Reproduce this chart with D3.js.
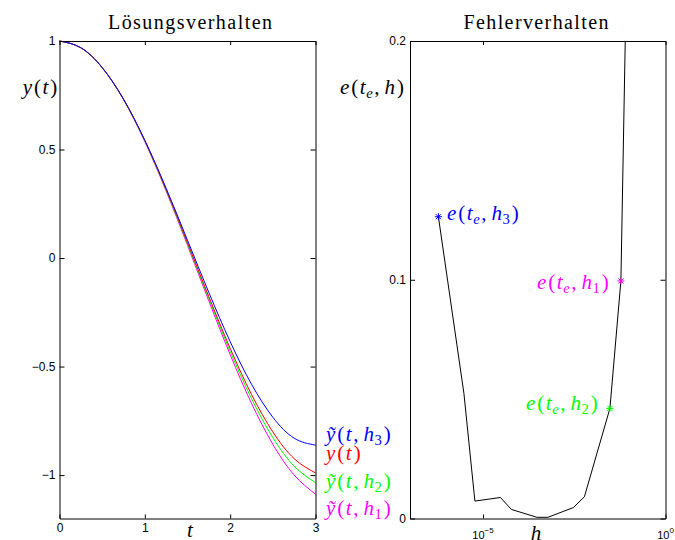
<!DOCTYPE html>
<html><head><meta charset="utf-8">
<script src="https://cdn.jsdelivr.net/npm/d3@7"></script>
<style>body{margin:0;background:#fff}svg{display:block}</style>
</head><body>
<svg id="c" width="675" height="540"></svg>
<script>
// ---- data ----
const tVals  = [0, 0.25, 0.5, 0.75, 1, 1.25, 1.5, 1.75, 2, 2.25, 2.5, 2.75, 3];
const yExact = [1, 0.9689, 0.8776, 0.7317, 0.5403, 0.3153, 0.0707, -0.1782, -0.4161, -0.6282, -0.8011, -0.9243, -0.9900];
const yH1    = [1, 0.9688, 0.8772, 0.7302, 0.5367, 0.3082, 0.0584, -0.1977, -0.4451, -0.6695, -0.8578, -0.9998, -1.0880];
const yH2    = [1, 0.9689, 0.8774, 0.7310, 0.5386, 0.3120, 0.0651, -0.1871, -0.4294, -0.6472, -0.8271, -0.9590, -1.0350];
const yH3    = [1, 0.9689, 0.8778, 0.7327, 0.5430, 0.3213, 0.0820, -0.1588, -0.3851, -0.5814, -0.7335, -0.8299, -0.8620];
const hVals   = [6e-7, 3e-6, 6e-6, 3e-5, 6e-5, 3e-4, 6e-4, 3e-3, 6e-3, 3e-2, 6e-2, 3e-1];
const errVals = [0.1264, 0.0524, 0.0073, 0.0088, 0.0038, 0.0005, 0.0005, 0.0046, 0.0091, 0.0461, 0.0995, 0.69];
const leftYTicks = [-1, -0.5, 0, 0.5, 1];
const leftXTicks = [0, 1, 2, 3];
const rightYTicks = [0, 0.1, 0.2];
const rightXTicks = [1e-5, 1];
const rightXExp = ["\u22125", "0"];
const titles = ["Lösungsverhalten", "Fehlerverhalten"];

const svg = d3.select("#c");
const SANS = "'Liberation Sans', Arial, sans-serif";
const SERIF = "'Liberation Serif', 'Times New Roman', serif";

const L = {x0: 59.5, x1: 315.5, y0: 41, y1: 518.5};
const R = {x0: 410, x1: 665.5, y0: 41, y1: 518.5};

const xL = d3.scaleLinear([0, 3], [L.x0, L.x1]);
const yL = d3.scaleLinear([-1.2, 1], [L.y1, L.y0]);
const xR = d3.scaleLog([1e-7, 1], [R.x0, R.x1]);
const yR = d3.scaleLinear([0, 0.2], [R.y1, R.y0]);

// math text helper
function mathText(x, y, parts, color, anchor, size) {
  size = size || 21;
  const t = svg.append("text").attr("x", x).attr("y", y)
    .attr("fill", color).attr("font-family", SERIF).attr("font-size", size)
    .attr("text-anchor", anchor || "start");
  let shifted = 0;
  parts.forEach(p => {
    const [s, st, dx] = p;
    const ts = t.append("tspan").text(s);
    if (dx) ts.attr("dx", dx);
    if (st.startsWith("sub")) {
      ts.attr("font-size", size * 0.7).attr("dy", 4 - shifted);
      shifted = 4;
      ts.attr("font-style", st === "subi" ? "italic" : "normal");
    } else {
      if (shifted) { ts.attr("dy", -shifted); shifted = 0; }
      ts.attr("font-style", st === "i" ? "italic" : "normal");
    }
  });
  return t;
}

function yt(sub) {
  return [["\u1EF9", "i"], ["(", "r", 2], ["t", "i", 1.5], [",", "r", 1.5], ["h", "i", 5], [sub, "sub", 0.5], [")", "r", 2]];
}
function et(sub) {
  return [["e", "i"], ["(", "r", 2], ["t", "i", 1.5], ["e", "subi", 0.5], [",", "r", 1.5], ["h", "i", 5], [sub, "sub", 0.5], [")", "r", 2]];
}

// ---- left plot ----
const gl = svg.append("g");
const line = d3.line().curve(d3.curveNatural).x((d, i) => xL(tVals[i])).y(d => yL(d));
[[yH1, "#ff00ff"], [yH2, "#00ff00"], [yExact, "#ff0000"], [yH3, "#0000ff"]].forEach(([arr, c]) => {
  gl.append("path").attr("d", line(arr)).attr("fill", "none").attr("stroke", c).attr("stroke-width", 1);
});

function styleAxis(g) {
  g.selectAll("path.domain").attr("stroke", "#000").attr("stroke-width", 1);
  g.selectAll(".tick line").attr("stroke", "#000").attr("stroke-width", 1);
  g.selectAll("text").attr("font-family", SANS).attr("font-size", 12).attr("fill", "#000");
}
const fmt = d3.format("");
svg.append("g").attr("transform", `translate(${L.x0},0)`)
  .call(d3.axisLeft(yL).tickValues(leftYTicks).tickFormat(fmt).tickSize(-5).tickSizeOuter(0).tickPadding(4)).call(styleAxis);
svg.append("g").attr("transform", `translate(${L.x1},0)`)
  .call(d3.axisRight(yL).tickValues(leftYTicks).tickFormat("").tickSize(-5).tickSizeOuter(0)).call(styleAxis);
svg.append("g").attr("transform", `translate(0,${L.y1})`)
  .call(d3.axisBottom(xL).tickValues(leftXTicks).tickFormat(fmt).tickSize(-4).tickSizeOuter(0).tickPadding(5)).call(styleAxis);
svg.append("g").attr("transform", `translate(0,${L.y0})`)
  .call(d3.axisTop(xL).tickValues(leftXTicks).tickFormat("").tickSize(-4).tickSizeOuter(0)).call(styleAxis);

// ---- right plot ----
svg.append("clipPath").attr("id", "clipR").append("rect")
  .attr("x", R.x0).attr("y", R.y0).attr("width", R.x1 - R.x0).attr("height", R.y1 - R.y0);
const errLine = d3.line().x((d, i) => xR(hVals[i])).y(d => yR(d));
svg.append("path").attr("clip-path", "url(#clipR)").attr("d", errLine(errVals))
  .attr("fill", "none").attr("stroke", "#000").attr("stroke-width", 1);

svg.append("g").attr("transform", `translate(${R.x0},0)`)
  .call(d3.axisLeft(yR).tickValues(rightYTicks).tickFormat(fmt).tickSize(-5).tickSizeOuter(0).tickPadding(4)).call(styleAxis);
svg.append("g").attr("transform", `translate(${R.x1},0)`)
  .call(d3.axisRight(yR).tickValues(rightYTicks).tickFormat("").tickSize(-5).tickSizeOuter(0)).call(styleAxis);
svg.append("g").attr("transform", `translate(0,${R.y1})`)
  .call(d3.axisBottom(xR).tickValues(rightXTicks).tickFormat("").tickSize(-4).tickSizeOuter(0)).call(styleAxis);
svg.append("g").attr("transform", `translate(0,${R.y0})`)
  .call(d3.axisTop(xR).tickValues(rightXTicks).tickFormat("").tickSize(-4).tickSizeOuter(0)).call(styleAxis);
rightXTicks.forEach((v, i) => {
  const t = svg.append("text").attr("x", xR(v)).attr("y", 539).attr("text-anchor", "middle")
    .attr("font-family", SANS).attr("font-size", 11).attr("fill", "#000");
  t.append("tspan").text("10");
  t.append("tspan").text(rightXExp[i]).attr("font-size", 8).attr("dy", -6);
});

// stars
const star = "M-3.5,0H3.5M0,-3.5V3.5M-2.5,-2.5L2.5,2.5M-2.5,2.5L2.5,-2.5";
[[0, "#0000ff"], [9, "#00ff00"], [10, "#ff00ff"]].forEach(([i, c]) => {
  svg.append("path").attr("d", star).attr("transform", `translate(${xR(hVals[i])},${yR(errVals[i])})`)
    .attr("stroke", c).attr("stroke-width", 1).attr("fill", "none");
});

// ---- titles and labels ----
svg.append("text").attr("x", 190).attr("y", 29).attr("text-anchor", "middle")
  .attr("font-family", SERIF).attr("font-size", 20).attr("textLength", 164).attr("lengthAdjust", "spacing").text(titles[0]);
svg.append("text").attr("x", 536).attr("y", 29).attr("text-anchor", "middle")
  .attr("font-family", SERIF).attr("font-size", 20).attr("textLength", 145).attr("lengthAdjust", "spacing").text(titles[1]);

mathText(40, 94, [["y", "i"], ["(", "r", 2], ["t", "i", 1.5], [")", "r", 2]], "#000", "middle");
mathText(372, 94, [["e", "i"], ["(", "r", 2], ["t", "i", 1.5], ["e", "subi", 0.5], [",", "r", 1.5], ["h", "i", 5], [")", "r", 2]], "#000", "middle");

mathText(326, 441, yt("3"), "#0000ff");
mathText(326, 460, [["y", "i"], ["(", "r", 2], ["t", "i", 1.5], [")", "r", 2]], "#ff0000");
mathText(326, 488, yt("2"), "#00ff00");
mathText(326, 515, yt("1"), "#ff00ff");

mathText(447, 220, et("3"), "#0000ff");
mathText(537, 289, et("1"), "#ff00ff");
mathText(526, 410, et("2"), "#00ff00");

mathText(190, 537, [["t", "i"]], "#000", "middle");
mathText(536, 540, [["h", "i"]], "#000", "middle");
</script>
</body></html>
